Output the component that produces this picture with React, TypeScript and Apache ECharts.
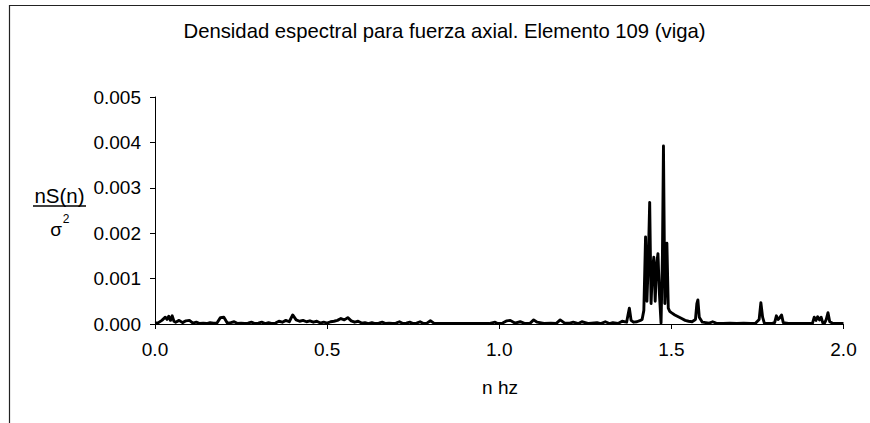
import React, { useEffect, useRef } from "react";
import * as echarts from "echarts";

const titleText = "Densidad espectral para fuerza axial. Elemento 109 (viga)";
const xAxisName = "n hz";
const yNameTop = "nS(n)";
const yNameBottom = "σ";
const xTicks = [0, 0.5, 1.0, 1.5, 2.0];
const yTicks = [0, 0.001, 0.002, 0.003, 0.004, 0.005];

const freqs = [
  0.00, 0.01, 0.02, 0.03, 0.035, 0.04, 0.045, 0.05, 0.055, 0.06, 0.07, 0.08, 0.09, 0.10,
  0.11, 0.12, 0.13, 0.14, 0.15, 0.16, 0.17, 0.18, 0.19, 0.20, 0.21, 0.22, 0.23, 0.24,
  0.25, 0.26, 0.27, 0.28, 0.29, 0.30, 0.31, 0.32, 0.33, 0.34, 0.35, 0.36, 0.37, 0.38,
  0.39, 0.40, 0.41, 0.42, 0.43, 0.44, 0.45, 0.46, 0.47, 0.48, 0.49, 0.50, 0.51, 0.52,
  0.53, 0.54, 0.55, 0.56, 0.57, 0.58, 0.59, 0.60, 0.61, 0.62, 0.63, 0.64, 0.65, 0.66,
  0.67, 0.68, 0.69, 0.70, 0.71, 0.72, 0.73, 0.74, 0.75, 0.76, 0.77, 0.78, 0.79, 0.80,
  0.81, 0.82, 0.85, 0.88, 0.91, 0.94, 0.97, 0.988, 0.995, 1.01, 1.022, 1.032, 1.045,
  1.061, 1.075, 1.09, 1.10, 1.11, 1.13, 1.15, 1.165, 1.177, 1.19, 1.205, 1.215, 1.23,
  1.24, 1.26, 1.284, 1.295, 1.308, 1.32, 1.33, 1.345, 1.357, 1.37, 1.374, 1.378, 1.383,
  1.39, 1.40, 1.41, 1.415, 1.420, 1.425, 1.429, 1.433, 1.437, 1.441, 1.445, 1.449,
  1.453, 1.457, 1.461, 1.465, 1.470, 1.474, 1.477, 1.481, 1.484, 1.487, 1.491, 1.495,
  1.50, 1.51, 1.52, 1.53, 1.54, 1.55, 1.56, 1.57, 1.574, 1.577, 1.581, 1.59, 1.60,
  1.61, 1.62, 1.63, 1.65, 1.67, 1.69, 1.71, 1.73, 1.745, 1.755, 1.760, 1.765, 1.77,
  1.79, 1.80, 1.805, 1.81, 1.815, 1.82, 1.825, 1.84, 1.86, 1.88, 1.90, 1.91, 1.915,
  1.92, 1.925, 1.93, 1.935, 1.94, 1.945, 1.95, 1.955, 1.96, 1.97, 1.98, 1.99, 2.00,
];

const density = [
  0.00002, 0.00003, 0.00008, 0.00015, 0.0001, 0.00017, 0.00008, 0.00018, 0.00006, 0.00004, 0.00008, 0.00003, 0.00007, 0.00008,
  0.00002, 0.00004, 0.00001, 0.00002, 0.00001, 0.00003, 0.00002, 0.00002, 0.00014, 0.00015, 0.00002, 0.00003, 0.00005, 0.00001,
  0.00002, 0.00001, 0.00002, 0.00004, 0.00001, 0.00002, 0.00004, 0.00001, 0.00003, 0.00001, 0.00002, 0.00006, 0.00004, 0.00008,
  0.00005, 0.0002, 0.00009, 0.00006, 0.00008, 0.00005, 0.00007, 0.00004, 0.00006, 0.00002, 0.00004, 0.00002, 0.00005, 0.00006,
  0.00008, 0.00012, 0.00009, 0.00014, 0.00007, 0.00004, 0.00006, 0.00002, 0.00003, 0.00001, 0.00003, 0.00001, 0.00002, 0.00004,
  0.00001, 0.00002, 0.00001, 0.00002, 0.00005, 0.00001, 0.00002, 0.00004, 0.00001, 0.00002, 0.00005, 0.00001, 0.00002, 0.00007,
  0.00002, 0.00001, 0.00001, 0.00001, 0.00001, 0.00001, 0.00001, 0.00004, 0.00001, 0.00002, 0.00007, 0.00008, 0.00002,
  0.00005, 0.00001, 0.00002, 0.00009, 0.00004, 0.00001, 0.00002, 0.00001, 0.00009, 0.00002, 0.00002, 0.00004, 0.00001,
  0.00005, 0.00001, 0.00003, 0.00001, 0.00005, 0.00001, 0.00003, 0.00001, 0.00006, 0.00004, 0.0002, 0.00035, 0.00008,
  0.00004, 0.00005, 0.00008, 0.0001, 0.0003, 0.00192, 0.0005, 0.0014, 0.00268, 0.00045, 0.0012, 0.00147,
  0.0005, 0.0013, 0.00155, 0.0007, 0.00002, 0.0015, 0.00392, 0.00045, 0.001, 0.00178, 0.00035, 0.00028,
  0.00025, 0.0002, 0.00016, 0.00012, 0.00008, 0.00006, 0.00005, 0.0001, 0.00045, 0.00053, 0.00015, 0.00004, 0.00003,
  0.00002, 0.00005, 0.00002, 0.00001, 0.00002, 0.00001, 0.00002, 0.00001, 0.00002, 0.0001, 0.00047, 0.00015, 0.00002,
  0.00001, 0.00003, 0.00018, 0.0001, 0.00014, 0.0002, 0.00003, 0.00001, 0.00001, 0.00001, 0.00001, 0.00002, 0.00015,
  0.00008, 0.00016, 0.00009, 0.00015, 0.00002, 0.00002, 0.0001, 0.00025, 0.00005, 0.00001, 0.00001, 0.00001, 0.00001,
];

const FONT = "'Liberation Sans', Arial, sans-serif";

export default function App() {
  const ref = useRef<HTMLDivElement>(null);

  useEffect(() => {
    document.body.style.margin = "0";
    if (!ref.current) return;
    const chart = echarts.init(ref.current, null, { renderer: "svg" });
    const seriesData = freqs.map((f, i) => [f, density[i]]);
    chart.setOption({
      animation: false,
      backgroundColor: "#ffffff",
      grid: { left: 155, right: 26.5, top: 97, bottom: 99, containLabel: false },
      xAxis: {
        type: "value",
        min: xTicks[0],
        max: xTicks[xTicks.length - 1],
        interval: 0.5,
        axisLine: { show: true, lineStyle: { color: "#000", width: 1 } },
        axisTick: { show: true, inside: false, length: 5, lineStyle: { color: "#000" } },
        axisLabel: {
          color: "#000",
          fontFamily: FONT,
          fontSize: 19,
          margin: 16,
          formatter: (v: number) => v.toFixed(1),
        },
        splitLine: { show: false },
      },
      yAxis: {
        type: "value",
        min: yTicks[0],
        max: yTicks[yTicks.length - 1],
        interval: 0.001,
        axisLine: { show: true, lineStyle: { color: "#000", width: 1 } },
        axisTick: { show: true, inside: false, length: 5, lineStyle: { color: "#000" } },
        axisLabel: {
          color: "#000",
          fontFamily: FONT,
          fontSize: 19,
          margin: 14,
          formatter: (v: number) => v.toFixed(3),
        },
        splitLine: { show: false },
      },
      series: [
        {
          type: "line",
          data: seriesData,
          showSymbol: false,
          symbol: "none",
          smooth: false,
          lineStyle: { color: "#000", width: 2.9, join: "round" },
          z: 5,
        },
      ],
      graphic: [
        {
          type: "rect",
          shape: { x: 9.5, y: 5.5, width: 1000, height: 1000 },
          style: { fill: "none", stroke: "#222", lineWidth: 1.2 },
          silent: true,
        },
        {
          type: "text",
          x: 444.5,
          y: 31,
          style: {
            text: titleText,
            fill: "#000",
            font: `20.3px ${FONT}`,
            align: "center",
            verticalAlign: "middle",
          },
        },
        {
          type: "text",
          x: 500,
          y: 387,
          style: {
            text: xAxisName,
            fill: "#000",
            font: `19px ${FONT}`,
            align: "center",
            verticalAlign: "middle",
          },
        },
        {
          type: "text",
          x: 59.5,
          y: 195,
          style: {
            text: yNameTop,
            fill: "#000",
            font: `20.5px ${FONT}`,
            align: "center",
            verticalAlign: "middle",
          },
        },
        {
          type: "line",
          shape: { x1: 33, y1: 206, x2: 86, y2: 206 },
          style: { stroke: "#000", lineWidth: 1.5 },
        },
        {
          type: "text",
          x: 56,
          y: 229,
          style: {
            text: yNameBottom,
            fill: "#000",
            font: `19px ${FONT}`,
            align: "center",
            verticalAlign: "middle",
          },
        },
        {
          type: "text",
          x: 66,
          y: 219,
          style: {
            text: "2",
            fill: "#000",
            font: `12px ${FONT}`,
            align: "center",
            verticalAlign: "middle",
          },
        },
      ],
    });
    return () => chart.dispose();
  }, []);

  return <div ref={ref} style={{ width: 870, height: 423 }} />;
}
